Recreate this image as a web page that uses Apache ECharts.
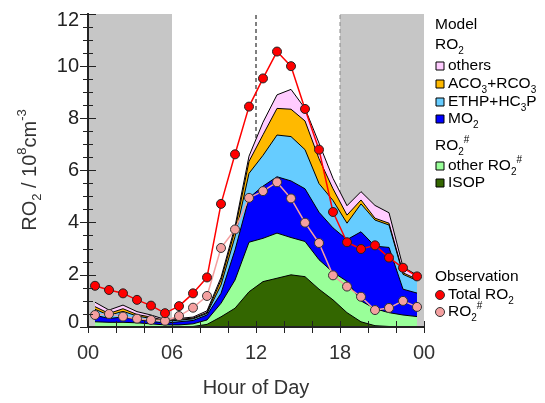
<!DOCTYPE html>
<html><head><meta charset="utf-8">
<script src="https://cdn.jsdelivr.net/npm/echarts@6/dist/echarts.min.js"></script>
<style>html,body{margin:0;padding:0;background:#fff}#c{width:545px;height:403px}</style>
</head><body><div id="c"></div>
<script>
const hours = [0.5,1.5,2.5,3.5,4.5,5.5,6.5,7.5,8.5,9.5,10.5,11.5,12.5,13.5,14.5,15.5,16.5,17.5,18.5,19.5,20.5,21.5,22.5,23.5];
// Model contributions (10^8 cm^-3), stacked bottom -> top
const isop      = [0.01,0.01,0.01,0.01,0.01,0.01,0.00,0.02,0.10,0.39,0.72,1.35,1.74,1.87,2.00,1.93,1.45,1.04,0.55,0.20,0.05,0.02,0.01,0.01];
const otherRO2h = [0.19,0.17,0.17,0.15,0.11,0.07,0.08,0.10,0.17,0.52,1.08,1.90,1.66,1.73,1.43,1.35,1.13,1.06,1.20,0.80,0.65,0.53,0.45,0.39];
const mo2       = [0.25,0.15,0.20,0.12,0.10,0.07,0.12,0.13,0.19,0.38,1.15,1.70,2.00,2.16,2.17,2.02,1.82,1.70,1.60,2.65,2.40,2.50,0.99,0.90];
const ethp      = [0.23,0.12,0.22,0.14,0.11,0.07,0.06,0.06,0.06,0.32,0.51,0.94,1.18,1.60,1.70,1.50,1.10,1.05,0.63,1.07,1.00,0.86,0.57,0.48];
const aco3      = [0.10,0.07,0.10,0.06,0.05,0.03,0.03,0.03,0.04,0.19,0.26,0.46,0.79,1.02,1.05,1.10,0.95,0.45,0.31,0.15,0.07,0.07,0.06,0.05];
const others    = [0.17,0.13,0.14,0.11,0.08,0.04,0.04,0.04,0.06,0.10,0.13,0.20,0.48,0.52,0.76,0.48,0.60,0.40,0.36,0.32,0.49,0.40,0.22,0.16];
// Observations
const obsTotal  = [1.58,1.42,1.29,1.04,0.82,0.53,0.80,1.29,1.90,4.72,6.62,8.45,9.53,10.56,10.0,8.36,6.80,4.41,3.25,2.99,3.13,2.66,2.27,1.94];
const obsRO2h   = [0.46,0.50,0.40,0.32,0.27,0.24,0.42,0.74,1.19,3.03,3.74,4.95,5.21,5.55,4.93,4.00,3.22,1.98,1.55,1.16,0.65,0.73,1.00,0.77];
const xTicks = [0,6,12,18,24];
const xTickLabels = ['00','06','12','18','00'];
const nightSpans = [[0,6],[18,24]];
const dashedHours = [12,18];

const FONT = 'Liberation Sans, Arial, Helvetica, sans-serif';
const pair = arr => hours.map((h,i)=>[h,arr[i]]);
const layers = [
  {name:'ISOP', data:isop, color:'#336600'},
  {name:'other RO2#', data:otherRO2h, color:'#99ff99'},
  {name:'MO2', data:mo2, color:'#0000ff'},
  {name:'ETHP+HC3P', data:ethp, color:'#66ccff'},
  {name:'ACO3+RCO3', data:aco3, color:'#ffb900'},
  {name:'others', data:others, color:'#ffccff'}
];
let run = hours.map(()=>0);
const stackSeries = layers.map((L)=>{
  run = run.map((v,i)=>v+L.data[i]);
  return {name:L.name, type:'line', data:pair(run.slice()), symbol:'none', z:3,
    lineStyle:{color:'#000', width:1}, areaStyle:{color:L.color, opacity:1, origin:0}};
});
const stackOrdered = stackSeries.slice().reverse();

const chart = echarts.init(document.getElementById('c'), null, {renderer:'canvas'});
const frame = {show:true, lineStyle:{color:'#222', width:2}};
function legendText(x,y,text,size){
  return {type:'text', x:x, y:y, z:100, style:{text:text, fontSize:size||15.5, fontFamily:FONT, fill:'#000',
    verticalAlign:'middle', align:'left', lineHeight:22,
    rich:{sub:{fontSize:10, verticalAlign:'bottom', lineHeight:10}, sup:{fontSize:10, verticalAlign:'top', lineHeight:10}}}};
}
function sq(y,color){ return {type:'rect', shape:{x:436,y:y-4,width:8,height:8}, z:100, style:{fill:color, stroke:'#000', lineWidth:1}}; }
function dot(y,color){ return {type:'circle', shape:{cx:440,cy:y,r:4.5}, z:100, style:{fill:color, stroke:'#333', lineWidth:1}}; }

chart.setOption({
  animation:false,
  backgroundColor:'#fff',
  grid:{left:88, right:121, top:14, bottom:76},
  xAxis:[{type:'value', min:0, max:24, interval:2, position:'bottom', z:10,
     axisLine:frame, axisTick:{show:true, inside:true, length:6, lineStyle:{color:'#222'}},
     splitLine:{show:false},
     axisLabel:{margin:16, fontSize:20, color:'#333', fontFamily:FONT,
       formatter:v=>{const k=xTicks.indexOf(v); return k>=0?xTickLabels[k]:'';}}},
    {type:'value', min:0, max:24, interval:2, position:'top', z:10,
     axisLine:frame, axisTick:{show:true, inside:true, length:6, lineStyle:{color:'#222'}},
     splitLine:{show:false}, axisLabel:{show:false}}],
  yAxis:[{type:'value', min:0, max:12, interval:2, position:'left', z:10,
     axisLine:frame, axisTick:{show:true, inside:true, length:8, lineStyle:{color:'#222'}},
     minorTick:{show:true, splitNumber:4, length:5, lineStyle:{color:'#222'}},
     splitLine:{show:false},
     axisLabel:{margin:9, fontSize:20, color:'#222', fontFamily:FONT,
       formatter:v=> v===12?'{t|12}':(v===0?'{b|0}':String(v)),
       rich:{t:{padding:[12,0,0,0], fontSize:20, fontFamily:FONT}, b:{padding:[0,0,10,0], fontSize:20, fontFamily:FONT}}}},
    {type:'value', min:0, max:12, interval:2, position:'right', z:10,
     axisLine:frame, axisTick:{show:true, inside:true, length:8, lineStyle:{color:'#222'}},
     minorTick:{show:true, splitNumber:4, length:5, lineStyle:{color:'#222'}},
     splitLine:{show:false}, axisLabel:{show:false}}],
  series:[
    {type:'line', data:[], z:0, silent:true,
     markArea:{silent:true, itemStyle:{color:'#c6c6c6'}, data:nightSpans.map(s=>[{xAxis:s[0]},{xAxis:s[1]}])}},
    {type:'line', data:[[dashedHours[0],0],[dashedHours[0],12]], z:1, symbol:'none', silent:true,
     lineStyle:{color:'#000', type:[4,3], width:1}},
    {type:'line', data:[[dashedHours[1],0],[dashedHours[1],12]], z:1, symbol:'none', silent:true,
     lineStyle:{color:'#888', type:[4,3], width:1}},
    ...stackOrdered,
    {name:'RO2# obs', type:'line', data:pair(obsRO2h), z:5, symbol:'circle', symbolSize:9,
     lineStyle:{color:'#f4a0a0', width:1.5}, itemStyle:{color:'#f4a0a0', borderColor:'#333', borderWidth:1}},
    {name:'Total RO2 obs', type:'line', data:pair(obsTotal), z:6, symbol:'circle', symbolSize:9,
     lineStyle:{color:'#ff0000', width:1.5}, itemStyle:{color:'#ff0000', borderColor:'#222', borderWidth:1}}
  ],
  graphic:[
    {type:'text', x:30, y:170, rotation:Math.PI/2, z:100,
     style:{text:'RO{sub|2} / 10{sup|8}cm{sup|-3}', fontSize:20, fontFamily:FONT, fill:'#333', align:'center', verticalAlign:'middle', lineHeight:28,
       rich:{sub:{fontSize:13, verticalAlign:'bottom', lineHeight:13}, sup:{fontSize:13, verticalAlign:'top', lineHeight:13}}}},
    {type:'text', x:256, y:388, z:100, style:{text:'Hour of Day', fontSize:20, fontFamily:FONT, fill:'#333', align:'center', verticalAlign:'middle'}},
    legendText(435,25,'Model'),
    legendText(435,45,'RO{sub|2}'),
    sq(66,'#ffccff'), legendText(448,66,'others'),
    sq(84,'#ffb900'), legendText(448,84,'ACO{sub|3}+RCO{sub|3}'),
    sq(102,'#66ccff'), legendText(448,102,'ETHP+HC{sub|3}P'),
    sq(119,'#0000ff'), legendText(448,119,'MO{sub|2}'),
    legendText(435,146,'RO{sub|2}{sup|#}'),
    sq(166,'#99ff99'), legendText(448,166,'other RO{sub|2}{sup|#}'),
    sq(183,'#336600'), legendText(448,183,'ISOP'),
    legendText(435,277,'Observation'),
    dot(295,'#ff0000'), legendText(448,295,'Total RO{sub|2}'),
    dot(312,'#f4a0a0'), legendText(448,312,'RO{sub|2}{sup|#}')
  ]
});
</script></body></html>
